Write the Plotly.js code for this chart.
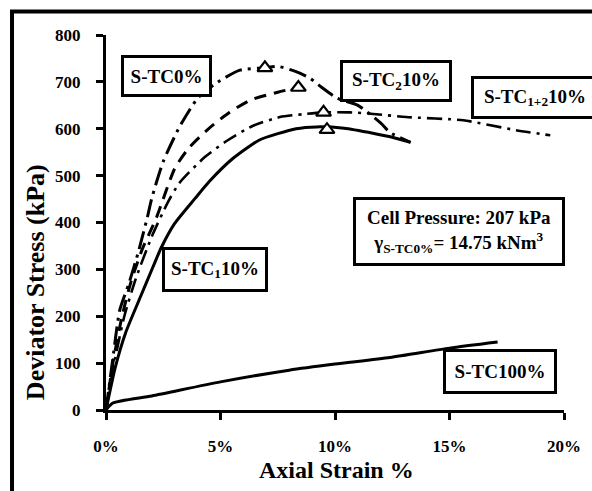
<!DOCTYPE html>
<html>
<head>
<meta charset="utf-8">
<script src="https://cdn.plot.ly/plotly-3.0.1.min.js"></script>
<style>html,body{margin:0;padding:0;background:#fff;}#chart{width:592px;height:491px;}</style>
</head>
<body>
<div id="chart"></div>
<script>
// ---- data (axial strain %, deviator stress kPa) ----
const tc0X = [0, 0.3, 0.6, 1.0, 1.4, 1.8, 2.0, 2.5, 3.2, 4.0, 4.8, 5.85, 6.94, 7.5, 8.3, 8.9, 9.4, 10.1, 11.0, 12.0, 12.4, 13.3];
const tc0Y = [0, 110, 213, 270, 335, 410, 452, 530, 603, 665, 697, 725, 730, 733, 722, 708, 689, 665, 650, 612, 592, 571];

const tc2X = [0, 0.3, 0.7, 1.1, 1.6, 2.2, 3.0, 3.6, 4.5, 5.4, 6.3, 7.5, 8.4];
const tc2Y = [0, 100, 200, 275, 345, 410, 515, 558, 601, 635, 661, 678, 688];

const tc12X = [0, 0.4, 0.8, 1.3, 2.0, 2.7, 3.2, 4.3, 5.3, 6.4, 7.6, 8.6, 9.5, 10.65, 11.8, 13.1, 15.6, 17.9, 19.4];
const tc12Y = [0, 110, 200, 280, 370, 443, 484, 539, 575, 606, 625, 631, 635, 635, 631, 625, 618, 597, 586];

const tc1X = [0, 0.4, 0.85, 1.5, 2.05, 2.4, 3.0, 3.9, 4.5, 5.55, 6.7, 8.3, 9.2, 10.4, 11.7, 12.5, 13.3];
const tc1Y = [0, 90, 164, 241, 305, 345, 398, 452, 487, 537, 576, 600, 604, 601, 590, 582, 571];

const tc100X = [0, 0.3, 2.0, 5.0, 8.0, 10.0, 12.4, 15.0, 17.1];
const tc100Y = [0, 15, 30, 60, 85, 98, 112, 132, 145];

const peakX = [6.94, 8.4, 9.5, 9.65];
const peakY = [730, 688, 635, 598];

const xTicks = [0, 5, 10, 15, 20];
const xTickText = ["0%", "5%", "10%", "15%", "20%"];
const yTicks = [0, 100, 200, 300, 400, 500, 600, 700, 800];

const labels = ["S-TC0%", "S-TC<sub>2</sub>10%", "S-TC<sub>1+2</sub>10%", "S-TC<sub>1</sub>10%", "S-TC100%"];
const infoText = "Cell Pressure: 207 kPa<br>γ<sub>S-TC0%</sub>= 14.75 kNm<sup>3</sup>";
const xTitle = "Axial Strain %";
const yTitle = "Deviator Stress (kPa)";

// ---- traces ----
const FONT = "'Liberation Serif', 'Times New Roman', serif";
const lineTrace = (x, y, dash, w) => ({
  x: x, y: y, type: 'scatter', mode: 'lines', cliponaxis: false,
  line: {color: '#000', width: w, dash: dash, shape: 'spline', smoothing: 0.6},
  hoverinfo: 'skip', showlegend: false
});

const traces = [
  lineTrace(tc100X, tc100Y, 'solid', 3),
  lineTrace(tc1X, tc1Y, 'solid', 3),
  lineTrace(tc12X, tc12Y, '15px,6px,3px,6px', 2.6),
  lineTrace(tc2X, tc2Y, '12px,8px', 3),
  lineTrace(tc0X, tc0Y, '18px,6px,3px,6px', 3),
  {
    x: peakX, y: peakY, type: 'scatter', mode: 'markers', cliponaxis: false,
    marker: {symbol: 'triangle-up', size: 13, color: '#fff', line: {color: '#000', width: 2.2}},
    hoverinfo: 'skip', showlegend: false
  }
];

const boxAnn = (text, x, y, w, h, size) => ({
  text: '<b>' + text + '</b>', x: x, y: y, xref: 'x', yref: 'y', showarrow: false,
  font: {family: FONT, size: size || 19, color: '#000'},
  bgcolor: '#fff', bordercolor: '#000', borderwidth: 3, borderpad: 0,
  width: w - 6, height: h - 6, xanchor: 'center', yanchor: 'middle', align: 'center'
});

const layout = {
  width: 592, height: 491,
  margin: {l: 106, r: 28, t: 35, b: 81},
  paper_bgcolor: '#fff', plot_bgcolor: '#fff',
  showlegend: false,
  font: {family: FONT, color: '#000'},
  xaxis: {
    range: [0, 20], tickvals: xTicks, ticktext: xTickText,
    showgrid: false, zeroline: false, showline: true, linecolor: '#000', linewidth: 3,
    ticks: 'outside', ticklen: 7, tickwidth: 3, tickcolor: '#000',
    ticklabelstandoff: 12,
    tickfont: {family: FONT, size: 17, color: '#000', weight: 'bold'}
  },
  yaxis: {
    range: [0, 800], tickvals: yTicks,
    showgrid: false, zeroline: false, showline: true, linecolor: '#000', linewidth: 3,
    ticks: 'outside', ticklen: 7, tickwidth: 3, tickcolor: '#000',
    ticklabelstandoff: 12,
    tickfont: {family: FONT, size: 17, color: '#000', weight: 'bold'}
  },
  shapes: [{
    type: 'rect', xref: 'paper', yref: 'paper',
    x0: -0.2052, x1: 1.08, y0: -0.25, y1: 1.0627,
    line: {color: '#000', width: 4}, fillcolor: 'rgba(0,0,0,0)'
  }],
  annotations: [
    boxAnn(labels[0], 2.66, 712, 91, 42),
    boxAnn(labels[1], 12.66, 701, 112, 42),
    boxAnn(labels[2], 18.75, 666, 128, 43),
    boxAnn(labels[3], 4.76, 300, 106, 45),
    boxAnn(labels[4], 17.2, 83, 114, 45),
    boxAnn(infoText, 15.4, 380, 212, 69, 19),
    {
      text: '<b>' + yTitle + '</b>', xref: 'paper', yref: 'paper', x: -0.155, y: 0.341,
      textangle: -90, showarrow: false, xanchor: 'center', yanchor: 'middle',
      font: {family: FONT, size: 26, color: '#000'}
    },
    {
      text: '<b>' + xTitle + '</b>', xref: 'paper', yref: 'paper', x: 0.504, y: -0.16,
      showarrow: false, xanchor: 'center', yanchor: 'middle',
      font: {family: FONT, size: 24, color: '#000'}
    }
  ]
};

Plotly.newPlot('chart', traces, layout, {staticPlot: true, displayModeBar: false});
</script>
</body>
</html>
